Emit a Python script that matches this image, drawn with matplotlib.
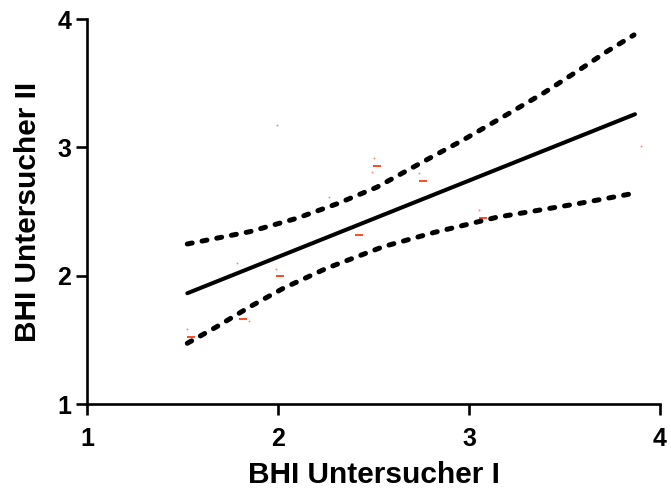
import numpy as np
import matplotlib
matplotlib.use("Agg")
import matplotlib.pyplot as plt

plt.rcParams['font.family'] = ['Liberation Sans', 'DejaVu Sans']
plt.rcParams['font.weight'] = 'bold'

# measured points (small red dashes)
dash_x = [1.543, 1.815, 2.010, 2.422, 2.517, 2.758, 3.072]
dash_y = [1.520, 1.660, 1.995, 2.315, 2.853, 2.736, 2.450]

# tiny light dots
dot_x = [1.525, 1.784, 1.847, 1.990, 1.993, 2.267, 2.491, 2.501, 2.740, 3.054, 3.899]
dot_y = [1.585, 2.097, 1.649, 2.055, 3.175, 2.613, 2.808, 2.915, 2.800, 2.512, 3.009]

# regression line
fit_x = [1.525, 3.869]
fit_y = [1.863, 3.258]

# 95% confidence bands
upper_x = [1.525, 1.853, 2.098, 2.307, 2.517, 2.761, 2.970, 3.180, 3.389, 3.564, 3.721, 3.864]
upper_y = [2.247, 2.343, 2.447, 2.559, 2.689, 2.889, 3.058, 3.239, 3.422, 3.590, 3.746, 3.876]
lower_x = [1.525, 1.679, 1.853, 2.028, 2.255, 2.551, 2.813, 3.145, 3.581, 3.865]
lower_y = [1.473, 1.602, 1.758, 1.902, 2.058, 2.226, 2.335, 2.455, 2.564, 2.642]

fig = plt.figure(figsize=(6.71, 5.0), dpi=100)
ax = fig.add_axes([0.1297, 0.192, 0.8539, 0.770])

ax.plot(dot_x, dot_y, ls='none', marker='o', ms=1.4, mew=0, color='#ff8a7a')
ax.plot(dash_x, dash_y, ls='none', marker='_', ms=6, mew=1.2, color='#ff2a00')

ax.plot(fit_x, fit_y, color='black', lw=2.9, solid_capstyle='round')
for bx, by in [(upper_x, upper_y), (lower_x, lower_y)]:
    ax.plot(bx, by, color='black', lw=3.6, ls=(0, (1, 2)), dash_capstyle='round')

ax.set_xlim(1, 4)
ax.set_ylim(1, 4)
ax.set_xticks([1, 2, 3, 4])
ax.set_yticks([1, 2, 3, 4])
for s in ['top', 'right']:
    ax.spines[s].set_visible(False)
for s in ['left', 'bottom']:
    ax.spines[s].set_linewidth(1.9)
ax.tick_params(width=1.9, length=8, labelsize=18)
ax.tick_params(axis='x', pad=8.5)
ax.tick_params(axis='y', pad=3.5)

ax.set_xlabel('BHI Untersucher I', fontsize=21.5, fontweight='bold', labelpad=7)
ax.set_ylabel('BHI Untersucher II', fontsize=21.5, fontweight='bold', labelpad=11)

fig.savefig('out.png', dpi=100)
